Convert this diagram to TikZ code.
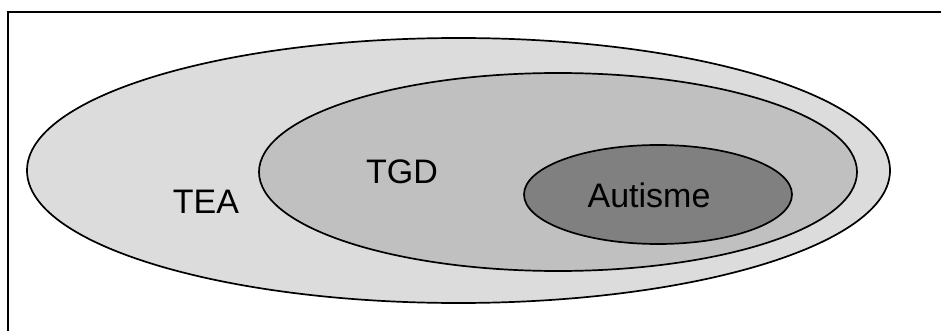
\documentclass[tikz,border=0pt]{standalone}
\usepackage{fontspec}
\setmainfont{Liberation Sans}
\usetikzlibrary{shapes.geometric}
\definecolor{teafill}{RGB}{220,220,220}
\definecolor{tgdfill}{RGB}{192,192,192}
\definecolor{autfill}{RGB}{128,128,128}
\begin{document}
\begin{tikzpicture}[x=1pt,y=-1pt,
  blob/.style={ellipse,draw=black,line width=1.7pt,inner sep=0pt,outer sep=0pt},
  lbl/.style={anchor=base,inner sep=0pt,font=\fontsize{34}{40}\selectfont,text=black}]
\useasboundingbox (0,0) rectangle (941,331);
\draw[line width=2pt] (8,331) -- (8,12) -- (941,12);
\node[blob,fill=teafill,minimum width=863pt,minimum height=265pt] (tea) at (458.5,170.5) {};
\node[blob,fill=tgdfill,minimum width=598pt,minimum height=198pt] (tgd) at (558,172) {};
\node[blob,fill=autfill,minimum width=268pt,minimum height=99pt] (aut) at (658,194.5) {};
\node[lbl] (teal) at (206,213) {TEA};
\node[lbl] (tgdl) at (402,183) {TGD};
\node[lbl] (autl) at (649,207) {Autisme};
\end{tikzpicture}
\end{document}
